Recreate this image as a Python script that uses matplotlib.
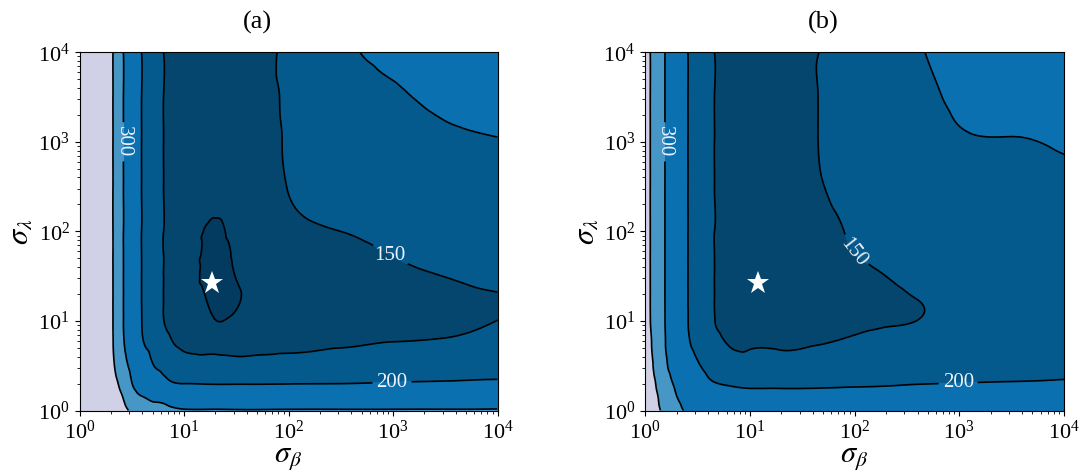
import numpy as np
import matplotlib.pyplot as plt
import matplotlib.tri as mtri

plt.rcParams['font.family'] = 'serif'
plt.rcParams['font.serif'] = ['Liberation Serif', 'DejaVu Serif']
plt.rcParams['mathtext.fontset'] = 'stix'

# log10(sigma_lambda) nodes, shared by both panels
log_sl = [0, 0.15, 0.3, 0.5, 0.75, 1.0, 1.25, 1.5, 1.75, 2.0, 2.5, 3.0, 3.5, 4.0]

# panel (a): log10(sigma_beta) nodes, one column of values per node
log_sb_a = [0, 0.2, 0.32, 0.42, 0.5, 0.6, 0.7, 0.8, 1.0, 1.25, 1.5, 1.75, 2.0, 2.5, 3.0, 3.5, 4.0]
err_a = [
    [850, 820, 810, 800, 800, 800, 800, 800, 800, 800, 800, 800, 800, 800],
    [575, 555, 545, 535, 530, 530, 530, 530, 530, 530, 530, 530, 530, 530],
    [470, 455, 440, 415, 402, 400, 400, 400, 400, 400, 400, 400, 400, 400],
    [425, 395, 360, 325, 305, 300, 300, 300, 300, 300, 300, 300, 300, 300],
    [385, 335, 302, 283, 262, 252, 250, 250, 250, 250, 250, 250, 250, 250],
    [345, 302, 272, 237, 206, 198, 197, 197, 197, 197, 197, 197, 197, 197],
    [325, 288, 255, 203, 186, 171, 168, 168, 168, 168, 168, 168, 168, 168],
    [315, 278, 222, 186, 165, 151.5, 150.5, 150.5, 150.5, 150.5, 150.5, 150.5, 150.5, 150.5],
    [306, 250, 200, 166, 145, 144.5, 144, 143, 143.5, 144.5, 145.5, 146, 146, 146],
    [305, 248, 198, 160, 145, 141.5, 138, 136, 137, 138.5, 142.5, 145, 146, 146],
    [304, 248, 198, 159, 145, 142, 138.5, 140.5, 142, 143, 145, 146.5, 147, 147],
    [304, 248, 198, 159, 146, 143, 143, 143.5, 144, 145, 146.5, 148, 148.5, 148.5],
    [305, 248, 199, 160, 147, 143.5, 143, 143.5, 145, 146.5, 150.5, 152, 153, 154],
    [305, 249, 200, 163, 148.5, 144, 143, 144, 146.5, 150, 162, 173, 182, 191],
    [305, 251, 204, 167, 150.5, 145.5, 145, 147, 150.5, 155, 168, 182, 196, 205],
    [305, 253, 207, 172, 152.5, 146, 146.5, 150.2, 156, 162, 177, 192, 208, 214],
    [306, 256, 211, 178, 160, 150.2, 148.5, 156, 163, 170, 184, 198.5, 211, 220],
]

# panel (b)
log_sb_b = [0, 0.05, 0.19, 0.3, 0.41, 0.5, 0.66, 0.8, 1.0, 1.3, 1.63, 2.0, 2.3, 2.6, 3.0, 3.5, 4.0]
err_b = [
    [520, 490, 470, 455, 448, 445, 445, 445, 445, 445, 445, 445, 445, 445],
    [465, 455, 440, 422, 410, 401, 400, 400, 400, 400, 400, 400, 400, 400],
    [375, 355, 335, 313, 303, 300.5, 300, 300, 300, 300, 300, 300, 300, 300],
    [315, 302, 288, 268, 252, 246, 245, 245, 245, 245, 245, 245, 245, 245],
    [296, 278, 252, 225, 206, 200.5, 200, 200, 200, 200, 200, 200, 200, 200],
    [292, 262, 228, 204, 190, 180, 178, 178, 178, 178, 178, 178, 178, 178],
    [290, 242, 203, 183, 162, 151, 150.3, 150.3, 150.3, 150.3, 150.3, 150.3, 150.3, 150.3],
    [290, 232, 195, 165, 149, 146.5, 146, 146, 146, 146, 146, 146, 146, 146],
    [290, 226, 190, 162, 147.5, 145, 144.5, 144.5, 144.5, 144.5, 145, 145.5, 146, 146],
    [290, 225, 190, 162, 148, 145, 144.5, 144.5, 144.5, 145, 146, 147, 147.5, 148],
    [290, 225, 191, 163, 149.5, 145.5, 145, 145, 145.5, 146.5, 149, 149.7, 149.7, 149.7],
    [290, 226, 194, 166, 152, 146.5, 146, 147.5, 150, 151.5, 155, 158, 160, 162],
    [290, 227, 196, 170, 156, 148, 147.5, 150, 153, 156, 161, 166, 170, 174],
    [291, 229, 199, 175, 160, 150.2, 150.2, 154, 158, 162, 170, 178, 187, 195],
    [291, 231, 201, 178, 165, 158, 157, 160, 164, 168, 178, 195, 206, 213],
    [292, 233, 203, 180, 168, 162, 161, 163, 167, 171, 182, 198, 212, 220],
    [293, 235, 206, 182, 171, 166, 165, 167, 170, 174, 186, 205, 216, 224],
]

levels = [100, 140, 150, 200, 300, 400, 1000]
fill_colors = ['#033b60', '#05466e', '#045a8d', '#0b70b0', '#4696c6', '#d0d1e6']
plain_levels = [140, 400]
labelled_levels = [150, 200, 300]

best_a = (18.6, 26.5)
best_b = (11.9, 26.5)

# label anchor points and text angles (300, 150, 200)
labels_a = [(10**0.42, 10**3.0), (10**2.99, 10**1.77), (10**2.99, 10**0.34)]
labels_b = [(10**0.19, 10**3.0), (10**1.97, 10**1.75), (10**2.99, 10**0.30)]
angles_a = [270, 0, 0]
angles_b = [270, None, 0]


def draw(ax, log_sb, err, best, label_pos, angles, title, title_x):
    ax.set_xscale('log')
    ax.set_yscale('log')
    ax.set_xlim(1, 1e4)
    ax.set_ylim(1, 1e4)

    nx, ny = len(log_sb), len(log_sl)
    U, V = np.meshgrid(log_sb, log_sl)
    Z = np.array(err, dtype=float).T
    idx = np.arange(nx * ny).reshape(ny, nx)
    a = idx[:-1, :-1].ravel()
    b = idx[:-1, 1:].ravel()
    c = idx[1:, 1:].ravel()
    d = idx[1:, :-1].ravel()
    triangles = np.concatenate([np.c_[a, b, c], np.c_[a, c, d]])
    tri = mtri.Triangulation(U.ravel(), V.ravel(), triangles)
    interp = mtri.CubicTriInterpolator(tri, Z.ravel(), kind='min_E')

    uu, vv = np.meshgrid(np.linspace(0, 4, 321), np.linspace(0, 4, 321))
    zz = interp(uu, vv)
    xs, ys = 10**uu, 10**vv

    ax.contourf(xs, ys, zz, levels=levels, colors=fill_colors)
    ax.contour(xs, ys, zz, levels=plain_levels, colors='k', linewidths=1.2)
    cs = ax.contour(xs, ys, zz, levels=labelled_levels, colors='k', linewidths=1.2)
    texts = ax.clabel(cs, manual=label_pos, fmt='%d', fontsize=15, colors='#eef2f8',
                      inline=True, inline_spacing=4)
    for t, ang in zip(texts, angles):
        t.set_fontfamily('serif')
        if ang is not None:
            t.set_rotation(ang)
    ax.plot(*best, marker='*', color='white', markersize=17, markeredgewidth=0)

    ax.set_xticks([1, 10, 100, 1000, 10000])
    ax.set_yticks([1, 10, 100, 1000, 10000])
    ax.tick_params(labelsize=16)
    ax.set_xlabel(r'$\sigma_\beta$', fontsize=22, labelpad=0)
    ax.set_ylabel(r'$\sigma_\lambda$', fontsize=22, labelpad=2)
    ax.set_title(title, fontsize=19, pad=17, x=title_x)


fig = plt.figure(figsize=(10.79, 4.76), dpi=100)
ax1 = fig.add_axes([0.0737, 0.1376, 0.3874, 0.7525])
ax2 = fig.add_axes([0.5978, 0.1376, 0.3883, 0.7525])
draw(ax1, log_sb_a, err_a, best_a, labels_a, angles_a, '(a)', 0.425)
draw(ax2, log_sb_b, err_b, best_b, labels_b, angles_b, '(b)', 0.425)
fig.savefig('out.png', dpi=100)
